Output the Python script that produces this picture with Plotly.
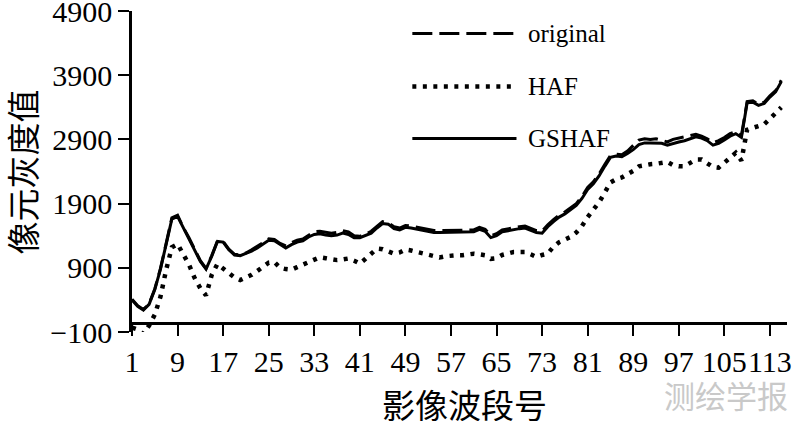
import plotly.graph_objects as go

bands = list(range(1, 116))

gshaf = [400, 300, 240, 330, 560, 880, 1270, 1660, 1700, 1520,
         1360, 1180, 1000, 880, 1080, 1310, 1300, 1180, 1100, 1090,
         1120, 1160, 1210, 1270, 1330, 1320, 1260, 1210, 1260, 1300,
         1320, 1380, 1420, 1430, 1410, 1400, 1410, 1440, 1420, 1370,
         1370, 1400, 1440, 1520, 1590, 1580, 1510, 1490, 1530, 1520,
         1500, 1480, 1470, 1450, 1450, 1450, 1450, 1450, 1455, 1460,
         1460, 1500, 1470, 1370, 1400, 1460, 1480, 1490, 1510, 1520,
         1490, 1450, 1440, 1540, 1620, 1690, 1740, 1800, 1870, 1980,
         2120, 2210, 2330, 2480, 2620, 2640, 2630, 2680, 2740, 2820,
         2845, 2845, 2845, 2840, 2810, 2840, 2860, 2880, 2910, 2940,
         2920, 2880, 2810, 2840, 2890, 2950, 2990, 2930, 3470, 3480,
         3430, 3460, 3560, 3640, 3800]

original = [410, 310, 250, 340, 570, 890, 1280, 1680, 1720, 1530,
            1370, 1190, 1010, 890, 1090, 1320, 1310, 1190, 1110, 1100,
            1130, 1180, 1230, 1290, 1350, 1340, 1280, 1240, 1290, 1330,
            1350, 1410, 1460, 1470, 1450, 1440, 1450, 1480, 1460, 1400,
            1390, 1420, 1470, 1550, 1620, 1600, 1540, 1520, 1560, 1550,
            1530, 1510, 1500, 1480, 1480, 1480, 1480, 1480, 1485, 1490,
            1490, 1530, 1500, 1400, 1430, 1490, 1510, 1520, 1540, 1550,
            1520, 1480, 1470, 1570, 1650, 1720, 1770, 1830, 1900, 2010,
            2150, 2240, 2360, 2510, 2650, 2670, 2660, 2720, 2800, 2890,
            2910, 2900, 2910, 2890, 2860, 2900, 2920, 2940, 2960, 2980,
            2950, 2910, 2850, 2880, 2930, 2990, 3020, 2960, 3490, 3500,
            3450, 3480, 3580, 3660, 3820]

haf = [-30, -60, -130, 0, 170, 450, 870, 1220, 1270, 1100,
       950, 740, 580, 470, 790, 960, 890, 800, 750, 710,
       750, 790, 850, 920, 980, 990, 900, 880, 870, 910,
       950, 990, 1030, 1065, 1050, 1035, 1020, 1030, 1045, 1010,
       966, 1040, 1120, 1200, 1190, 1160, 1120, 1140, 1185, 1170,
       1145, 1130, 1110, 1085, 1060, 1080, 1095, 1095, 1095, 1110,
       1120, 1110, 1095, 1040, 1050, 1100, 1120, 1145, 1146, 1146,
       1110, 1070, 1100, 1121, 1230, 1300, 1340, 1380, 1450, 1550,
       1690, 1800, 1920, 2070, 2230, 2280, 2306, 2360, 2410, 2480,
       2505, 2513, 2520, 2535, 2549, 2500, 2482, 2482, 2540, 2586,
       2586, 2530, 2470, 2460, 2530, 2600, 2690, 2570, 3050, 3080,
       3100, 3136, 3220, 3320, 3400]

x_ticks = [1, 9, 17, 25, 33, 41, 49, 57, 65, 73, 81, 89, 97, 105, 113]
y_ticks = [-100, 900, 1900, 2900, 3900, 4900]
legend_names = ["original", "HAF", "GSHAF"]

SERIF = "Liberation Serif"
CJK = "Noto Sans CJK SC"

fig = go.Figure()
fig.add_trace(go.Scatter(x=bands, y=haf, mode="lines", name="HAF",
                         line=dict(color="black", width=4.5, dash="4px,6.5px")))
fig.add_trace(go.Scatter(x=bands, y=original, mode="lines", name="original",
                         line=dict(color="black", width=3, dash="20px,7px")))
fig.add_trace(go.Scatter(x=bands, y=gshaf, mode="lines", name="GSHAF",
                         line=dict(color="black", width=3)))

# custom legend (sample lines + labels)
leg_styles = [dict(width=3, dash="20px,7px"), dict(width=4.5, dash="4px,6.5px"), dict(width=3)]
leg_y = [0.93, 0.765, 0.603]
for name, st, yy in zip(legend_names, leg_styles, leg_y):
    fig.add_shape(type="line", xref="paper", yref="paper", x0=0.428, x1=0.587, y0=yy, y1=yy,
                  line=dict(color="black", **st))
    fig.add_annotation(xref="paper", yref="paper", x=0.602, y=yy, text=name, showarrow=False,
                       xanchor="left", yanchor="middle",
                       font=dict(family=SERIF, size=25, color="black"))

# axis titles
fig.add_annotation(xref="paper", yref="paper", x=-0.168, y=0.5, text="像元灰度值",
                   textangle=-90, showarrow=False, xanchor="center", yanchor="middle",
                   font=dict(family=CJK, size=33, color="black"))
fig.add_annotation(xref="paper", yref="paper", x=0.507, y=-0.225, text="影像波段号",
                   showarrow=False, xanchor="center", yanchor="middle",
                   font=dict(family=CJK, size=33, color="black"))
# watermark
fig.add_annotation(xref="paper", yref="paper", x=0.907, y=-0.195, text="测绘学报",
                   showarrow=False, xanchor="center", yanchor="middle",
                   font=dict(family=CJK, size=31, color="#c9c9c9"))

fig.update_layout(
    width=800, height=421,
    margin=dict(l=132, r=13, t=11, b=89, autoexpand=False),
    paper_bgcolor="white", plot_bgcolor="white",
    showlegend=False,
    xaxis=dict(range=[1, 116], tickvals=x_ticks, ticktext=[str(v) for v in x_ticks],
               showline=True, linecolor="black", linewidth=2.5,
               ticks="outside", ticklen=11, tickwidth=2, tickcolor="black",
               showgrid=False, zeroline=False, tickangle=0, automargin=False,
               ticklabeloverflow="allow",
               anchor="free", position=0.027,
               tickfont=dict(family=SERIF, size=30, color="black")),
    yaxis=dict(range=[-100, 4900], tickvals=y_ticks, ticktext=["\u2212100"] + [str(v) for v in y_ticks[1:]],
               showline=True, linecolor="black", linewidth=2.5,
               ticks="outside", ticklen=11, tickwidth=2, tickcolor="black",
               showgrid=False, zeroline=False, automargin=False,
               ticklabeloverflow="allow",
               tickfont=dict(family=SERIF, size=30, color="black")),
)

fig.write_html("out.html", config={"displayModeBar": False},
               post_script="document.body.style.margin='0';document.body.style.overflow='hidden';")
